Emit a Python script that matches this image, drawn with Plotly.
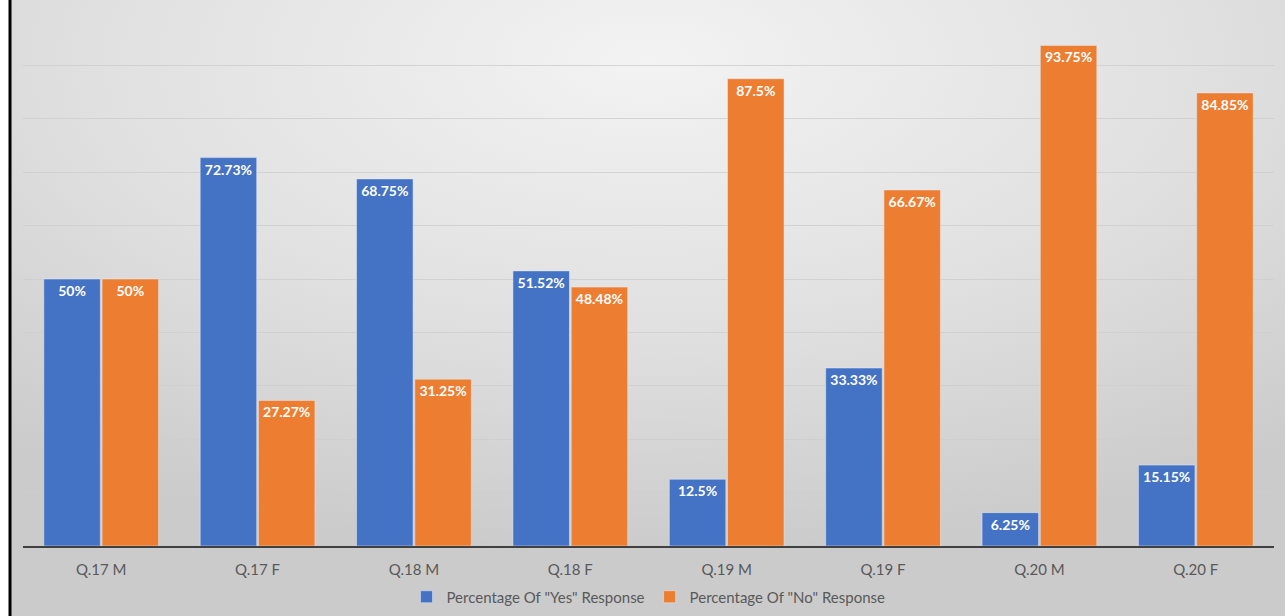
import base64
import plotly.graph_objects as go

categories = ["Q.17 M", "Q.17 F", "Q.18 M", "Q.18 F", "Q.19 M", "Q.19 F", "Q.20 M", "Q.20 F"]
yes_pct = [50, 72.73, 68.75, 51.52, 12.5, 33.33, 6.25, 15.15]
no_pct = [50, 27.27, 31.25, 48.48, 87.5, 66.67, 93.75, 84.85]
yes_name = 'Percentage Of "Yes" Response'
no_name = 'Percentage Of "No" Response'

W, H = 1285, 616
ML, MR, MT, MB = 23, 11, 12, 70
PW, PH = W - ML - MR, H - MT - MB

BLUE = "#4472C4"
ORANGE = "#ED7D31"
FONT = "Lato"


def fmt(v):
    return f"{v:g}%"


# soft radial backdrop, brighter near the top centre
svg = (
    '<svg xmlns="http://www.w3.org/2000/svg" width="1274" height="616" '
    'preserveAspectRatio="none" viewBox="0 0 1274 616">'
    '<defs><radialGradient id="g" cx="0.5" cy="0.1" r="0.8" fx="0.5" fy="0.1">'
    '<stop offset="0" stop-color="#f3f3f3"/>'
    '<stop offset="0.55" stop-color="#e0e0e0"/>'
    '<stop offset="1" stop-color="#cbcbcb"/>'
    '</radialGradient></defs>'
    '<rect width="1274" height="616" fill="url(#g)"/></svg>'
)
bg_src = "data:image/svg+xml;base64," + base64.b64encode(svg.encode()).decode()

fig = go.Figure()
fig.add_trace(go.Bar(
    name=yes_name, x=categories, y=yes_pct, marker_color=BLUE,
    text=[fmt(v) for v in yes_pct], textposition="inside", insidetextanchor="end",
    textangle=0, constraintext="none",
    textfont=dict(family=FONT, size=14, color="white", weight="bold"),
))
fig.add_trace(go.Bar(
    name=no_name, x=categories, y=no_pct, marker_color=ORANGE,
    text=[fmt(v) for v in no_pct], textposition="inside", insidetextanchor="end",
    textangle=0, constraintext="none",
    textfont=dict(family=FONT, size=14, color="white", weight="bold"),
))

fig.update_layout(
    width=W, height=H,
    margin=dict(l=ML, r=MR, t=MT, b=MB, pad=0, autoexpand=False),
    paper_bgcolor="white",
    plot_bgcolor="rgba(0,0,0,0)",
    barmode="group", bargap=0.255, bargroupgap=0.03,
    font=dict(family=FONT, size=15, color="#595959"),
    showlegend=True,
    legend=dict(
        orientation="h", x=0.5, xanchor="center", y=(546 - 597) / PH,
        yanchor="middle", bgcolor="rgba(0,0,0,0)",
        font=dict(family=FONT, size=15, color="#595959"),
        traceorder="normal", itemwidth=30,
    ),
    xaxis=dict(
        showline=True, linecolor="#404040", linewidth=1.5,
        showgrid=False, ticks="", tickfont=dict(size=15, color="#595959"),
        ticklabelstandoff=9, fixedrange=True,
    ),
    yaxis=dict(
        range=[0, 100], dtick=10, showticklabels=False,
        showgrid=True, gridcolor="rgba(205,205,205,0.8)", gridwidth=1,
        zeroline=False, showline=False, fixedrange=True,
    ),
    images=[dict(
        source=bg_src, xref="paper", yref="paper",
        x=(11 - ML) / PW, y=(H - MB) / PH,
        sizex=(W - 11) / PW, sizey=H / PH,
        xanchor="left", yanchor="top", sizing="stretch", layer="below",
    )],
    shapes=[dict(
        type="line", xref="paper", yref="paper",
        x0=(10 - ML) / PW, x1=(10 - ML) / PW,
        y0=-MB / PH, y1=(H - MB) / PH,
        line=dict(color="black", width=3),
    )],
)

fig.write_html("out.html")
